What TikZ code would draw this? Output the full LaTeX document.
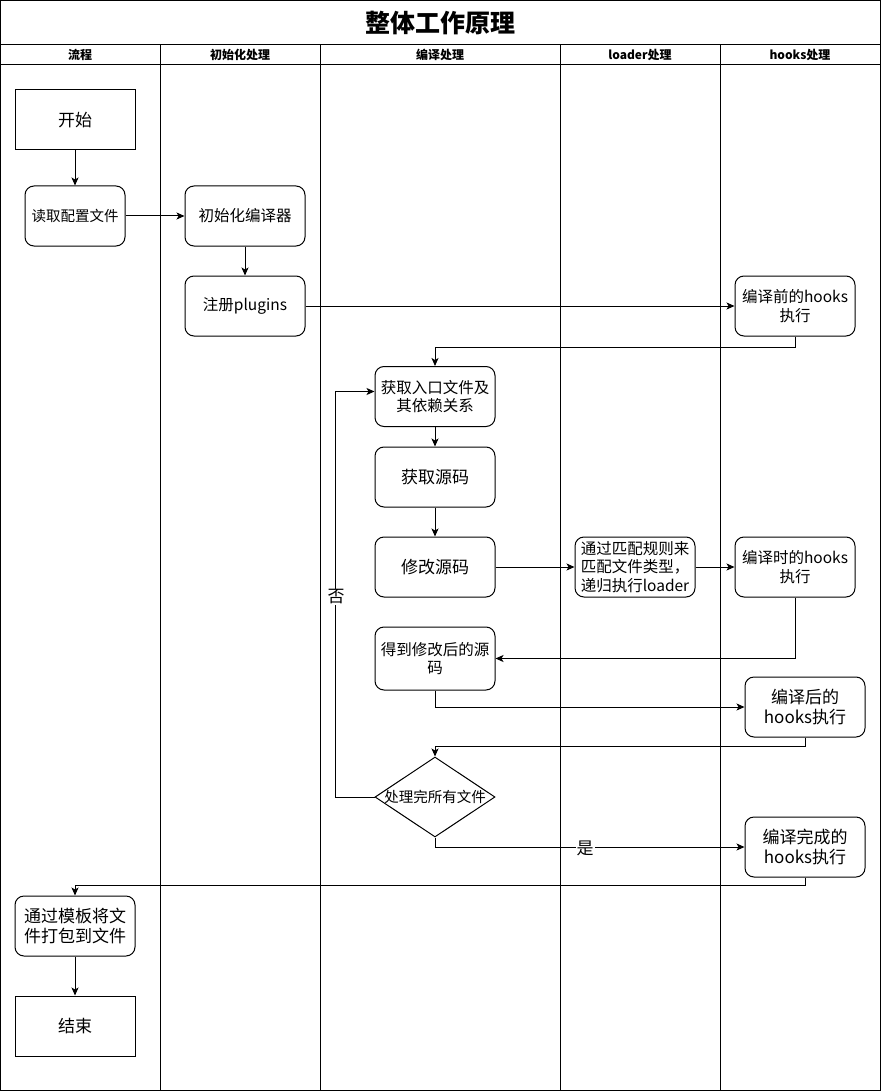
\documentclass[tikz,border=0pt]{standalone}
\usepackage{fontspec}
\setmainfont{Noto Sans CJK SC}
\usetikzlibrary{arrows.meta,shapes.geometric}
\tikzset{
  lane/.style={line width=1pt},
  box/.style={draw, line width=1pt, rounded corners=9pt, minimum width=120pt, minimum height=60pt, align=center, inner sep=1pt},
  sq/.style={draw, line width=1pt, minimum width=120pt, minimum height=60pt, align=center, inner sep=1pt},
  arr/.style={-{Stealth[length=8pt,width=7pt,inset=2pt]}, line width=1pt},
  lbl/.style={fill=white, inner sep=1pt},
  fa/.style={font=\fontsize{14.5}{17.5}\selectfont},
  fb/.style={font=\fontsize{15.5}{18.5}\selectfont},
  fc/.style={font=\fontsize{17}{20.5}\selectfont},
  hd/.style={font=\bfseries\fontsize{12}{14}\selectfont},
}
\begin{document}
\begin{tikzpicture}[x=1pt,y=-1pt]
\useasboundingbox (0,0) rectangle (881,1091);
% frame and lanes
\draw[lane] (0.5,0.5) rectangle (880.5,1090.5);
\draw[lane] (0.5,45) -- (880.5,45);
\draw[lane] (0.5,65) -- (880.5,65);
\foreach \xx in {160,320,560,720} \draw[lane] (\xx,45) -- (\xx,1090.5);
\node[font=\bfseries\fontsize{25}{30}\selectfont] (title) at (440,23) {整体工作原理};
\node[hd] (h1) at (80,55) {流程};
\node[hd] (h2) at (240,55) {初始化处理};
\node[hd] (h3) at (440,55) {编译处理};
\node[hd] (h4) at (640,55) {loader处理};
\node[hd] (h5) at (800,55) {hooks处理};
% nodes
\node[sq, fc] (start) at (75,120) {开始};
\node[box, fa, minimum width=100pt] (read) at (75,216) {读取配置文件};
\node[box, fb] (init) at (245,216) {初始化编译器};
\node[box, fb] (reg) at (245,306) {注册plugins};
\node[box, fb] (pre) at (795,306) {编译前的hooks\\执行};
\node[box, fb] (entry) at (435,396.5) {获取入口文件及\\其依赖关系};
\node[box, fc] (src) at (435,477) {获取源码};
\node[box, fc] (mod) at (435,567) {修改源码};
\node[box, fb] (loader) at (635,567) {通过匹配规则来\\匹配文件类型，\\递归执行loader};
\node[box, fb] (during) at (795,567) {编译时的hooks\\执行};
\node[box, fb, minimum height=63pt] (got) at (435,658.5) {得到修改后的源\\码};
\node[box, fc] (post) at (805,707) {编译后的\\hooks执行};
\node[draw, line width=1pt, diamond, aspect=1.5, minimum width=120pt, minimum height=80pt, inner sep=0pt] (dec) at (435,797) {};
\node[fa] (dectext) at (dec.center) {处理完所有文件};
\node[box, fc] (done) at (805,847) {编译完成的\\hooks执行};
\node[box, fc] (pack) at (75,926) {通过模板将文\\件打包到文件};
\node[sq, fc] (end) at (75,1026) {结束};
% connectors
\draw[arr] (start) -- (read);
\draw[arr] (read) -- (init);
\draw[arr] (init) -- (reg);
\draw[arr] (reg) -- (pre);
\draw[arr] (pre.south) -- ++(0,11) -| (entry.north);
\draw[arr] (entry) -- (src);
\draw[arr] (src) -- (mod);
\draw[arr] (mod) -- (loader);
\draw[arr] (loader) -- (during);
\draw[arr] (during.south) |- (got.east);
\draw[arr] (got.south) |- (post.west);
\draw[arr] (post.south) -- ++(0,9) -| (dec.north);
\draw[arr] (dec.west) -- ++(-39,0) coordinate (nc) |- ([yshift=5pt]entry.west);
\node[lbl, fc] (no) at (336,597) {否};
\draw[arr] (dec.south) |- (done.west);
\node[lbl, fc] (yes) at (585,848) {是};
\draw[arr] (done.south) -- ++(0,8) -| (pack.north);
\draw[arr] (pack) -- (end);
\end{tikzpicture}
\end{document}
